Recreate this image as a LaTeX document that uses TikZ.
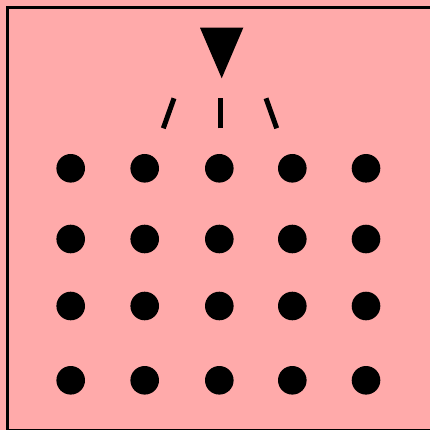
\documentclass[tikz,border=0pt]{standalone}
\definecolor{bgpink}{RGB}{255,170,170}
\begin{document}
\begin{tikzpicture}[x=1pt,y=-1pt,
  dot/.style={circle,fill=black,inner sep=0pt,minimum size=28.6pt},
  tick/.style={line width=5pt},
  frame/.style={draw=black,line width=3pt}]
\useasboundingbox (0,0) rectangle (430,430);
\fill[bgpink] (0,0) rectangle (430,430);
\draw[frame] (7.5,7.5) rectangle (434,430.5);
\fill[black] (200,27.7) -- (243.3,27.7) -- (221.7,78.3) -- cycle;
\coordinate (l1) at (163.3,128.3); \coordinate (l2) at (174,98.3);
\coordinate (m1) at (220.7,128.3); \coordinate (m2) at (220.7,98.3);
\coordinate (r1) at (276.7,128.3); \coordinate (r2) at (266,98.3);
\draw[tick] (l1) -- (l2);
\draw[tick] (m1) -- (m2);
\draw[tick] (r1) -- (r2);
\foreach \x [count=\i] in {70.7,144.7,219.3,292.3,366}
  \foreach \y [count=\j] in {168.3,239,306,380.3}
    \node[dot] (d\i\j) at (\x,\y) {};
\end{tikzpicture}
\end{document}
